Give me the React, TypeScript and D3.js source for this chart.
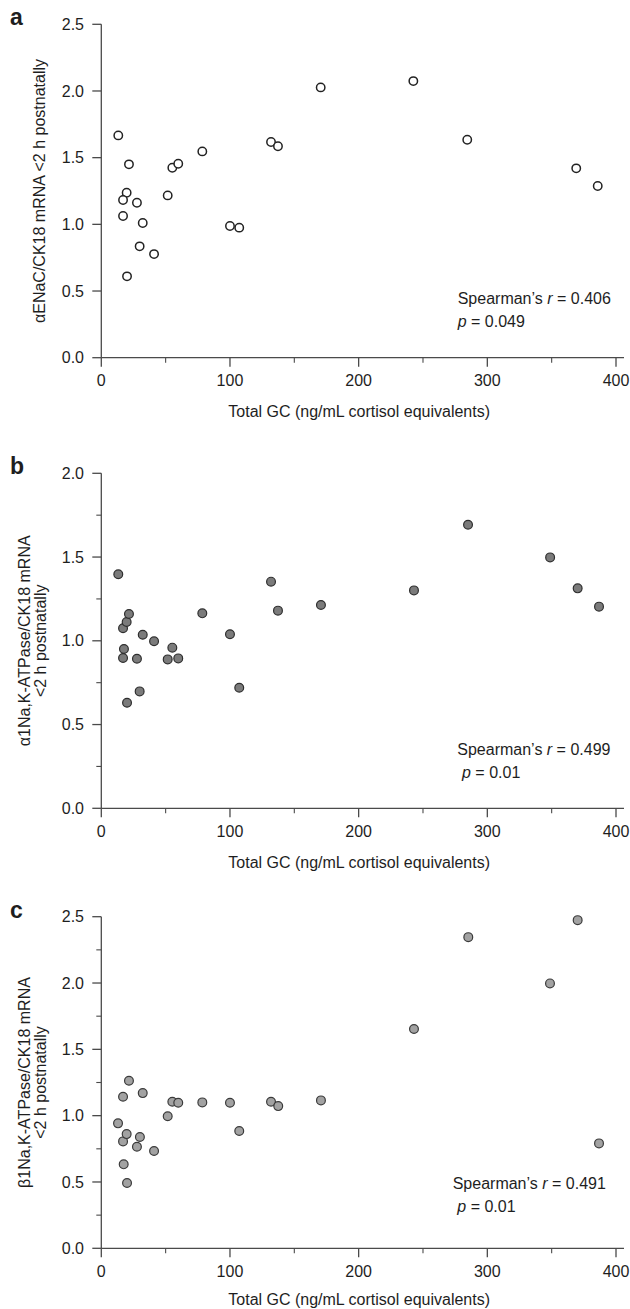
import React from "react";
import * as d3 from "d3";

// Total glucocorticoid (ng/mL cortisol equivalents) per infant, and transcript ratios
const gcA = [13.2, 21.5, 19.7, 16.9, 16.9, 27.7, 32.2, 29.8, 41, 20, 51.6, 55.2, 59.8, 78.5, 100, 107.2, 131.9, 137.3, 170.5, 242.5, 284.4, 369.1, 385.8];
const enacA = [1.667, 1.45, 1.237, 1.182, 1.062, 1.162, 1.01, 0.835, 0.777, 0.61, 1.217, 1.424, 1.454, 1.547, 0.987, 0.975, 1.617, 1.585, 2.027, 2.074, 1.634, 1.42, 1.287];

const gcB = [13.2, 16.9, 19.7, 21.5, 17.6, 16.9, 27.7, 29.8, 20, 32.2, 41, 51.6, 55.2, 59.8, 78.5, 100, 107.2, 131.9, 137.3, 170.7, 243, 285, 348.8, 370.2, 386.8];
const alpha1B = [1.397, 1.075, 1.112, 1.16, 0.951, 0.897, 0.893, 0.698, 0.63, 1.036, 0.997, 0.889, 0.959, 0.895, 1.164, 1.039, 0.72, 1.353, 1.18, 1.214, 1.301, 1.693, 1.498, 1.313, 1.204];

const gcC = [13, 16.9, 16.9, 17.4, 19.7, 20, 21.5, 27.7, 30, 32.2, 41, 51.6, 55.2, 59.8, 78.5, 100, 107.2, 131.9, 137.5, 170.7, 243, 285.2, 348.7, 370.2, 386.8];
const beta1C = [0.942, 1.143, 0.806, 0.633, 0.861, 0.492, 1.263, 0.766, 0.839, 1.17, 0.733, 0.995, 1.105, 1.097, 1.1, 1.097, 0.884, 1.105, 1.072, 1.115, 1.653, 2.346, 1.997, 2.474, 0.791];

const xTicks = [0, 100, 200, 300, 400];
const xMinorTicks = [50, 150, 250, 350];
const xTitle = "Total GC (ng/mL cortisol equivalents)";

const FONT = "'Liberation Sans', Arial, Helvetica, sans-serif";
const AXIS = "#4a4a4a";
const TEXT = "#1e1e1e";

type Panel = {
  letter: string;
  xs: number[];
  ys: number[];
  yMax: number;
  yMinor: boolean;
  top: number;
  bottom: number;
  yTitle: string[];
  fill: string;
  stroke: string;
  r: number;
  sw: number;
  rho: string;
  pval: string;
  statX: [number, number];
  statDy: [number, number];
  titleDy: number;
};

const panels: Panel[] = [
  {
    letter: "a", xs: gcA, ys: enacA, yMax: 2.5, yMinor: false, top: 24.3, bottom: 357.7,
    yTitle: ["\u03b1ENaC/CK18 mRNA <2 h postnatally"],
    fill: "#ffffff", stroke: "#222", r: 4.2, sw: 1.5,
    rho: "0.406", pval: "0.049", statX: [457.7, 457.7], statDy: [-53.7, -30.7], titleDy: 59,
  },
  {
    letter: "b", xs: gcB, ys: alpha1B, yMax: 2.0, yMinor: true, top: 473.3, bottom: 808.3,
    yTitle: ["\u03b11Na,K-ATPase/CK18 mRNA", "<2 h postnatally"],
    fill: "#7b7b7b", stroke: "#2e2e2e", r: 4.4, sw: 1.2,
    rho: "0.499", pval: "0.01", statX: [457.3, 462], statDy: [-53.3, -30.3], titleDy: 59.5,
  },
  {
    letter: "c", xs: gcC, ys: beta1C, yMax: 2.5, yMinor: true, top: 916.7, bottom: 1248.3,
    yTitle: ["\u03b21Na,K-ATPase/CK18 mRNA", "<2 h postnatally"],
    fill: "#a2a2a2", stroke: "#3a3a3a", r: 4.4, sw: 1.2,
    rho: "0.491", pval: "0.01", statX: [452.7, 457.3], statDy: [-59, -36.6], titleDy: 57,
  },
];

const x = d3.scaleLinear().domain([0, 400]).range([101.3, 616]);
const fmt = d3.format(".1f");

function ScatterPanel({ p }: { p: Panel }) {
  const y = d3.scaleLinear().domain([0, p.yMax]).range([p.bottom, p.top]);
  const x0 = x(0);
  const majorY = d3.range(0, p.yMax + 0.001, 0.5);
  const minorY = p.yMinor ? d3.range(0.25, p.yMax, 0.5) : [];
  const mid = (p.top + p.bottom) / 2;
  const titleX = p.yTitle.length === 1 ? [45] : [30, 46];
  return (
    <g>
      <text x={10} y={p.top + 1} fontFamily={FONT} fontWeight="bold" fontSize={23} fill={TEXT}>
        {p.letter}
      </text>
      {/* axes */}
      <line x1={x0} x2={x0} y1={p.top} y2={p.bottom} stroke={AXIS} strokeWidth={1.3} />
      <line x1={x0} x2={624} y1={p.bottom} y2={p.bottom} stroke={AXIS} strokeWidth={1.3} />
      {majorY.map((v) => (
        <g key={"yt" + v}>
          <line x1={x0 - 9} x2={x0} y1={y(v)} y2={y(v)} stroke={AXIS} strokeWidth={1.3} />
          <text x={84} y={y(v) + 5.6} textAnchor="end" fontFamily={FONT} fontSize={16} fill={TEXT}>
            {fmt(v)}
          </text>
        </g>
      ))}
      {minorY.map((v) => (
        <line key={"ym" + v} x1={x0 - 5} x2={x0} y1={y(v)} y2={y(v)} stroke={AXIS} strokeWidth={1.1} />
      ))}
      {xTicks.map((v) => (
        <g key={"xt" + v}>
          <line x1={x(v)} x2={x(v)} y1={p.bottom} y2={p.bottom + 9} stroke={AXIS} strokeWidth={1.3} />
          <text x={x(v)} y={p.bottom + 28.5} textAnchor="middle" fontFamily={FONT} fontSize={16} fill={TEXT}>
            {v}
          </text>
        </g>
      ))}
      {xMinorTicks.map((v) => (
        <line key={"xm" + v} x1={x(v)} x2={x(v)} y1={p.bottom} y2={p.bottom + 5} stroke={AXIS} strokeWidth={1.1} />
      ))}
      <text x={(x(0) + x(400)) / 2 + 0.5} y={p.bottom + p.titleDy} textAnchor="middle" fontFamily={FONT} fontSize={16} fill={TEXT}>
        {xTitle}
      </text>
      {p.yTitle.map((t, i) => (
        <text
          key={"ytl" + i}
          transform={`translate(${titleX[i]},${mid}) rotate(-90)`}
          textAnchor="middle"
          fontFamily={FONT}
          fontSize={16}
          fill={TEXT}
        >
          {t}
        </text>
      ))}
      {/* points */}
      {p.xs.map((v, i) => (
        <circle key={"pt" + i} cx={x(v)} cy={y(p.ys[i])} r={p.r} fill={p.fill} stroke={p.stroke} strokeWidth={p.sw} />
      ))}
      {/* correlation */}
      <text x={p.statX[0]} y={p.bottom + p.statDy[0]} fontFamily={FONT} fontSize={16} fill={TEXT}>
        {"Spearman\u2019s "}
        <tspan fontStyle="italic">r</tspan>
        {" = " + p.rho}
      </text>
      <text x={p.statX[1]} y={p.bottom + p.statDy[1]} fontFamily={FONT} fontSize={16} fill={TEXT}>
        <tspan fontStyle="italic">p</tspan>
        {" = " + p.pval}
      </text>
    </g>
  );
}

export default function App() {
  return (
    <svg
      width={630}
      height={1309}
      viewBox="0 0 630 1309"
      style={{ position: "absolute", left: 0, top: 0, background: "#fff" }}
    >
      <rect width={630} height={1309} fill="#fff" />
      {panels.map((p) => (
        <ScatterPanel key={p.letter} p={p} />
      ))}
    </svg>
  );
}
